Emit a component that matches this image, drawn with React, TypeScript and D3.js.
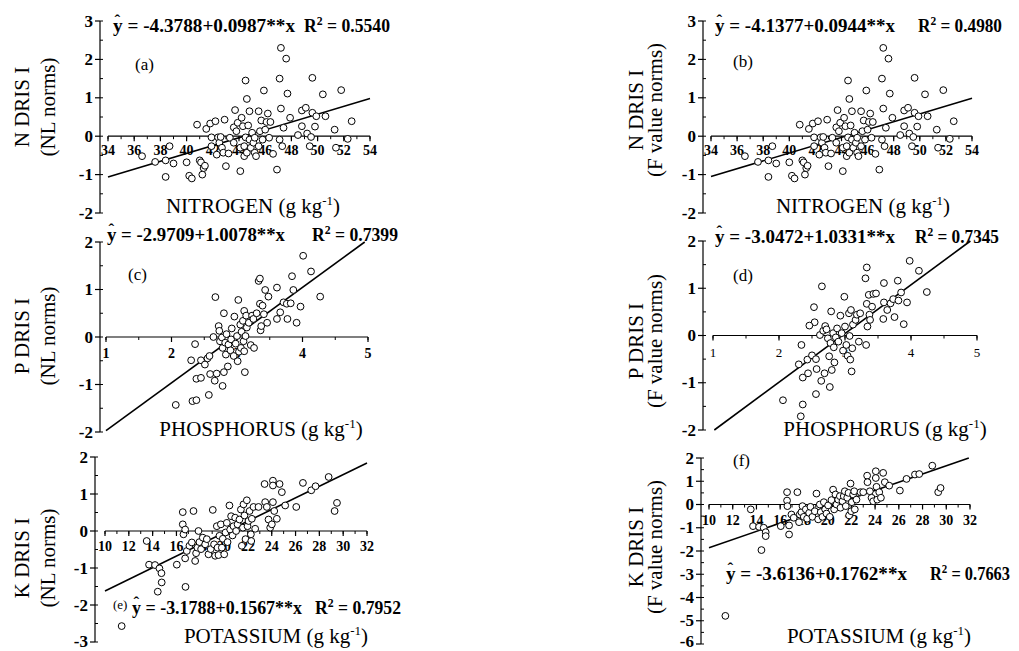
import React from "react";
import * as d3 from "d3";

type Pt = [number, number];

// ---------- data ----------
const nitrogenPoints: Pt[] = [
  [36.6, -0.52], [37.6, -0.67], [38.4, -0.63], [38.4, -1.06], [38.7, -0.26], [39.0, -0.71],
  [40.0, -0.68], [40.2, -1.03], [40.4, -1.1], [40.8, 0.3], [41.0, -0.63], [41.1, -0.68],
  [41.2, -1.0], [41.3, -0.83], [41.4, -0.77], [41.5, 0.19], [41.8, 0.33], [41.9, -0.03],
  [41.9, -0.26], [42.2, 0.39], [42.3, -0.48], [42.4, -0.03], [42.5, -0.17], [42.6, -0.02],
  [42.7, -0.3], [42.8, -0.43], [42.9, 0.43], [43.0, -0.78], [43.2, -0.45], [43.3, -0.04],
  [43.6, 0.23], [43.6, -0.17], [43.7, 0.68], [43.8, 0.13], [43.9, 0.35], [44.1, -0.91],
  [44.1, -0.3], [44.2, 0.48], [44.3, 0.26], [44.4, -0.26], [44.4, -0.52], [44.5, 1.45],
  [44.5, -0.03], [44.6, -0.43], [44.6, 0.97], [44.7, 0.28], [44.8, 0.65], [44.8, -0.09],
  [44.9, -0.3], [45.0, 0.09], [45.1, -0.17], [45.2, -0.43], [45.2, -0.04], [45.3, -0.52],
  [45.5, -0.26], [45.5, 0.65], [45.6, 0.13], [45.7, 0.41], [45.8, -0.09], [45.9, 1.19],
  [46.0, 0.17], [46.1, 0.37], [46.2, 0.59], [46.3, -0.04], [46.4, 0.37], [46.6, -0.46],
  [46.9, -0.87], [47.1, -0.09], [47.1, 1.5], [47.2, 0.72], [47.2, 2.3], [47.3, -0.26],
  [47.4, 0.22], [47.6, 2.02], [47.7, 1.11], [47.9, 0.48], [48.5, 0.03], [48.8, 0.26],
  [48.8, 0.67], [49.1, 0.74], [49.2, 0.07], [49.4, -0.26], [49.5, -0.02], [49.6, 1.52],
  [49.6, 0.61], [49.8, 0.25], [49.9, 0.52], [50.4, 1.09], [50.6, 0.52], [51.3, 0.17],
  [51.4, -0.3], [51.8, 1.2], [52.3, -0.07], [52.6, 0.39],
];

const phosphorusNLPoints: Pt[] = [
  [2.065, -1.43], [2.32, -1.35], [2.38, -1.33], [2.57, -1.22], [2.78, -1.03], [2.3, -0.49],
  [2.36, -0.15], [2.38, -0.88], [2.45, -0.49], [2.45, -0.86], [2.51, -0.58], [2.55, -0.45],
  [2.58, -0.4], [2.59, -0.78], [2.64, 0.0], [2.66, -0.92], [2.67, 0.84], [2.69, -0.77],
  [2.72, 0.23], [2.73, 0.13], [2.74, -0.09], [2.77, -0.01], [2.78, -0.23], [2.8, 0.5],
  [2.8, -0.74], [2.82, -0.12], [2.83, -0.37], [2.84, 0.06], [2.86, -0.62], [2.87, -0.16],
  [2.9, -0.28], [2.91, -0.05], [2.92, 0.18], [2.95, -0.4], [2.96, 0.43], [2.98, -0.14],
  [3.0, 0.02], [3.01, -0.51], [3.02, 0.78], [3.03, -0.31], [3.05, 0.26], [3.06, -0.23],
  [3.07, 0.11], [3.09, 0.34], [3.1, -0.09], [3.11, -0.3], [3.11, 0.55], [3.12, -0.74],
  [3.13, 0.02], [3.14, 0.45], [3.15, 0.2], [3.18, 0.3], [3.21, -0.17], [3.23, 0.45],
  [3.25, 0.38], [3.26, -0.23], [3.3, 0.5], [3.33, 1.18], [3.35, 1.23], [3.35, 0.7],
  [3.36, 0.14], [3.37, 0.23], [3.39, 0.66], [3.41, 0.48], [3.43, 0.99], [3.46, 0.3],
  [3.48, 0.85], [3.61, 1.04], [3.61, 0.38], [3.66, 0.52], [3.71, 0.73], [3.76, 0.7],
  [3.77, 0.38], [3.82, 0.71], [3.84, 1.28], [3.86, 0.99], [3.91, 0.3], [3.97, 0.64],
  [4.01, 1.71], [4.13, 1.38], [4.27, 0.85],
];

const phosphorusFPoints: Pt[] = [
  [2.06, -1.37], [2.33, -1.71], [2.36, -1.46], [2.56, -1.24], [2.77, -1.09], [2.3, -0.61],
  [2.34, -0.2], [2.36, -0.89], [2.43, -0.51], [2.44, -0.8], [2.5, -0.42], [2.53, 0.6],
  [2.54, 0.28], [2.46, 0.21], [2.56, -0.5], [2.57, -0.71], [2.62, 0.01], [2.64, -0.96],
  [2.65, 1.04], [2.67, 0.1], [2.69, -0.8], [2.7, 0.2], [2.72, 0.13], [2.74, -0.06],
  [2.76, -0.44], [2.78, -0.16], [2.79, 0.51], [2.8, -0.73], [2.82, 0.05], [2.83, -0.25],
  [2.84, -0.57], [2.86, -0.04], [2.88, 0.15], [2.9, -0.13], [2.93, 0.42], [2.95, 0.05],
  [2.97, -0.32], [2.99, 0.82], [3.0, 0.19], [3.02, -0.2], [3.04, -0.43], [3.06, 0.47],
  [3.07, -0.01], [3.08, -0.51], [3.09, 0.54], [3.1, -0.76], [3.11, -0.27], [3.12, 0.23],
  [3.16, 0.33], [3.18, 0.44], [3.21, -0.13], [3.23, 0.47], [3.31, 1.21], [3.32, -0.2],
  [3.33, 1.44], [3.33, 0.67], [3.34, 0.19], [3.36, 0.86], [3.37, 0.44], [3.38, 0.33],
  [3.41, 0.61], [3.43, 0.88], [3.47, 0.89], [3.58, 0.35], [3.59, 1.11], [3.59, 0.7],
  [3.64, 0.54], [3.69, 0.68], [3.73, 0.77], [3.75, 0.39], [3.8, 1.16], [3.81, 0.74],
  [3.85, 0.91], [3.89, 0.24], [3.94, 0.7], [3.98, 1.58], [4.12, 1.37], [4.24, 0.92],
];

const potassiumNLPoints: Pt[] = [
  [11.4, -2.57], [13.5, -0.27], [13.7, -0.91], [14.2, -0.92], [14.43, -1.64], [14.57, -1.01],
  [14.74, -1.14], [14.76, -1.39], [16.03, -0.91], [16.53, 0.51], [16.53, 0.18], [16.59, -0.09],
  [16.73, 0.04], [16.73, -0.74], [16.76, -1.51], [16.87, -0.54], [17.09, -0.4], [17.29, -0.31],
  [17.43, 0.54], [17.57, -0.81], [17.65, -0.6], [17.76, -0.45], [17.85, 0.0], [17.93, -0.3],
  [18.07, -0.49], [18.21, -0.18], [18.41, -0.36], [18.55, -0.22], [18.69, -0.63], [18.88, -0.49],
  [19.05, 0.57], [19.16, -0.36], [19.25, -0.67], [19.39, 0.13], [19.45, -0.45], [19.53, -0.65],
  [19.61, -0.13], [19.73, 0.18], [19.81, -0.45], [19.89, -0.21], [20.01, -0.63], [20.12, -0.04],
  [20.23, 0.22], [20.29, -0.3], [20.45, 0.69], [20.51, 0.04], [20.59, 0.4], [20.71, -0.12],
  [20.79, 0.13], [20.93, 0.36], [21.01, 0.0], [21.13, 0.18], [21.29, 0.31], [21.41, 0.58],
  [21.49, -0.4], [21.58, 0.09], [21.63, 0.72], [21.71, 0.42], [21.8, -0.22], [21.91, 0.83],
  [21.97, 0.13], [22.05, 0.27], [22.14, 0.54], [22.25, -0.09], [22.28, -0.27], [22.33, 0.33],
  [22.47, 0.65], [22.61, 0.06], [22.89, 0.65], [23.4, 1.27], [23.45, 0.78], [23.59, 0.65],
  [23.73, 0.31], [23.87, 0.09], [24.01, 0.18], [24.1, 1.36], [24.1, 1.23], [24.1, 0.78],
  [24.21, 0.54], [24.43, 0.33], [24.66, 1.27], [24.85, 1.05], [25.13, 0.69], [26.06, 0.65],
  [26.62, 1.3], [27.32, 1.1], [27.68, 1.21], [28.78, 1.46], [29.28, 0.54], [29.48, 0.76],
];

const potassiumFPoints: Pt[] = [
  [11.38, -4.79], [13.52, -0.21], [13.71, -0.93], [14.22, -0.96], [14.42, -1.96], [14.61, -1.0],
  [14.78, -1.19], [14.78, -1.36], [16.05, -0.93], [16.58, 0.53], [16.58, 0.17], [16.61, -0.07],
  [16.75, -0.9], [16.75, -1.29], [16.95, -0.43], [17.14, -0.57], [17.45, 0.53], [17.59, -0.76],
  [17.65, -0.43], [17.79, -0.33], [17.88, -0.07], [17.99, -0.53], [18.16, -0.21], [18.27, -0.61],
  [18.44, -0.36], [18.55, -0.1], [18.72, -0.53], [18.92, -0.29], [19.06, 0.47], [19.2, -0.64],
  [19.34, 0.0], [19.42, -0.33], [19.56, -0.53], [19.68, 0.1], [19.79, -0.21], [19.9, -0.39],
  [20.04, -0.04], [20.18, -0.53], [20.32, 0.19], [20.46, 0.64], [20.55, -0.21], [20.66, 0.43],
  [20.74, 0.0], [20.89, 0.21], [21.03, 0.36], [21.08, -0.14], [21.25, 0.14], [21.36, 0.36],
  [21.45, 0.57], [21.53, -0.07], [21.65, 0.29], [21.76, 0.5], [21.81, -0.47], [21.93, 0.9],
  [21.99, -0.29], [22.04, 0.1], [22.15, 0.43], [22.24, 0.57], [22.29, -0.21], [22.43, 0.21],
  [22.77, 0.53], [23.0, 0.53], [23.33, 1.24], [23.36, 0.96], [23.56, 0.57], [23.7, 0.29],
  [23.84, 0.14], [24.06, 1.43], [24.06, 1.14], [24.12, 0.76], [24.18, 0.21], [24.35, 0.53],
  [24.49, 0.29], [24.68, 1.36], [24.82, 0.96], [25.19, 0.81], [26.09, 0.6], [26.65, 1.1],
  [27.36, 1.29], [27.72, 1.31], [28.82, 1.67], [29.32, 0.53], [29.52, 0.71],
];

// regression line end points (as drawn)
const fitA: Pt[] = [[34, -1.06], [54, 0.98]];
const fitB: Pt[] = [[34, -1.05], [54, 0.99]];
const fitC: Pt[] = [[1, -1.97], [4.95, 2.0]];
const fitD: Pt[] = [[1.02, -2.0], [4.9, 2.0]];
const fitE: Pt[] = [[10, -1.62], [32, 1.84]];
const fitF: Pt[] = [[10, -1.86], [31.9, 2.0]];

const nitrogenTicks = [34, 36, 38, 40, 42, 44, 46, 48, 50, 52, 54];
const phosphorusTicks = [1, 2, 3, 4, 5];
const potassiumTicks = [10, 12, 14, 16, 18, 20, 22, 24, 26, 28, 30, 32];
const yTicksN = [-2, -1, 0, 1, 2, 3];
const yTicksP = [-2, -1, 0, 1, 2];
const yTicksKNL = [-3, -2, -1, 0, 1, 2];
const yTicksKF = [-6, -5, -4, -3, -2, -1, 0, 1, 2];

const equations = [
  "= -4.3788+0.0987**x",
  "= -4.1377+0.0944**x",
  "= -2.9709+1.0078**x",
  "= -3.0472+1.0331**x",
  "= -3.1788+0.1567**x",
  "= -3.6136+0.1762**x",
];
const r2Values = ["0.5540", "0.4980", "0.7399", "0.7345", "0.7952", "0.7663"];
const panelTags = ["(a)", "(b)", "(c)", "(d)", "(e)", "(f)"];
const yTitles = ["N DRIS I", "N DRIS I", "P DRIS I", "P DRIS I", "K DRIS I", "K DRIS I"];
const normTitles = ["(NL norms)", "(F value norms)", "(NL norms)", "(F value norms)", "(NL norms)", "(F value norms)"];
const xTitles = ["NITROGEN", "NITROGEN", "PHOSPHORUS", "PHOSPHORUS", "POTASSIUM", "POTASSIUM"];

// ---------- layout ----------
const FONT = "'Liberation Serif', 'Times New Roman', serif";

type Panel = {
  pts: Pt[]; fit: Pt[];
  xDom: [number, number]; xR: [number, number];
  yDom: [number, number]; yR: [number, number];
  axisX: number; xTicks: number[]; xMinor: number; yTicks: number[];
  xBold: boolean; xFs: number; xLabOff: number;
  eqX: number; eqY: number; eqW: number; r2X: number; r2W: number;
  tagX: number; tagY: number; tagFs: number;
  yT1x: number; yT2x: number; yTcy: number;
  xTcx: number; xTy: number;
};

const panels: Panel[] = [
  { pts: nitrogenPoints, fit: fitA, xDom: [34, 54], xR: [108, 370], yDom: [-2, 3], yR: [213, 21], axisX: 100,
    xTicks: nitrogenTicks, xMinor: 1, yTicks: yTicksN, xBold: true, xFs: 14, xLabOff: 19,
    eqX: 113, eqY: 32, eqW: 182, r2X: 304, r2W: 86, tagX: 135, tagY: 70, tagFs: 17,
    yT1x: 29, yT2x: 55, yTcy: 107, xTcx: 253, xTy: 213 },
  { pts: nitrogenPoints, fit: fitB, xDom: [34, 54], xR: [711, 972], yDom: [-2, 3], yR: [213, 21], axisX: 703,
    xTicks: nitrogenTicks, xMinor: 1, yTicks: yTicksN, xBold: true, xFs: 14, xLabOff: 19,
    eqX: 715, eqY: 32, eqW: 180, r2X: 918, r2W: 84, tagX: 733, tagY: 67, tagFs: 17,
    yT1x: 643, yT2x: 662, yTcy: 110, xTcx: 863, xTy: 213 },
  { pts: phosphorusNLPoints, fit: fitC, xDom: [1, 5], xR: [106, 368], yDom: [-2, 2], yR: [432, 242], axisX: 100,
    xTicks: phosphorusTicks, xMinor: 0.5, yTicks: yTicksP, xBold: true, xFs: 14, xLabOff: 21,
    eqX: 107, eqY: 241, eqW: 178, r2X: 312, r2W: 86, tagX: 128, tagY: 280, tagFs: 17,
    yT1x: 29, yT2x: 55, yTcy: 336, xTcx: 261, xTy: 436 },
  { pts: phosphorusFPoints, fit: fitD, xDom: [1, 5], xR: [713, 977], yDom: [-2, 2], yR: [430, 241], axisX: 703,
    xTicks: phosphorusTicks, xMinor: 0.5, yTicks: yTicksP, xBold: false, xFs: 13, xLabOff: 21,
    eqX: 715, eqY: 243, eqW: 180, r2X: 915, r2W: 84, tagX: 733, tagY: 281, tagFs: 17,
    yT1x: 643, yT2x: 662, yTcy: 341, xTcx: 885, xTy: 436 },
  { pts: potassiumNLPoints, fit: fitE, xDom: [10, 32], xR: [105, 367], yDom: [-3, 2], yR: [642, 457], axisX: 95,
    xTicks: potassiumTicks, xMinor: 1, yTicks: yTicksKNL, xBold: true, xFs: 14, xLabOff: 20,
    eqX: 132, eqY: 614, eqW: 170, r2X: 315, r2W: 86, tagX: 113, tagY: 609, tagFs: 13,
    yT1x: 29, yT2x: 55, yTcy: 558, xTcx: 276, xTy: 643 },
  { pts: potassiumFPoints, fit: fitF, xDom: [10, 32], xR: [709, 970], yDom: [-6, 2], yR: [644, 458], axisX: 701,
    xTicks: potassiumTicks, xMinor: 1, yTicks: yTicksKF, xBold: true, xFs: 14, xLabOff: 20,
    eqX: 726, eqY: 580, eqW: 181, r2X: 930, r2W: 80, tagX: 733, tagY: 466, tagFs: 17,
    yT1x: 643, yT2x: 662, yTcy: 547, xTcx: 879, xTy: 643 },
];

function PanelView({ p, i }: { p: Panel; i: number }) {
  const x = d3.scaleLinear().domain(p.xDom).range(p.xR);
  const y = d3.scaleLinear().domain(p.yDom).range(p.yR);
  const y0 = y(0);
  const line = d3.line<Pt>().x((d) => x(d[0])).y((d) => y(d[1]));
  const xMinorTicks = d3.range(p.xDom[0], p.xDom[1] + 1e-9, p.xMinor);
  const yMinorTicks = d3.range(p.yDom[0], p.yDom[1] + 1e-9, 0.5);
  return (
    <g fontFamily={FONT} fill="#000">
      {/* y axis */}
      <line x1={p.axisX} x2={p.axisX} y1={y(p.yDom[1])} y2={y(p.yDom[0])} stroke="#000" strokeWidth={1.2} />
      {p.yTicks.map((t) => (
        <g key={"yt" + t}>
          <line x1={p.axisX - 5} x2={p.axisX} y1={y(t)} y2={y(t)} stroke="#000" strokeWidth={1.2} />
          <text x={p.axisX - 7} y={Math.min(y(t) + 5.5, 647)} textAnchor="end" fontSize={17} fontWeight="bold">{t}</text>
        </g>
      ))}
      {yMinorTicks.map((t) => (
        <line key={"ym" + t} x1={p.axisX} x2={p.axisX + 3} y1={y(t)} y2={y(t)} stroke="#000" strokeWidth={1} />
      ))}
      {/* x axis at y = 0 */}
      <line x1={x(p.xDom[0])} x2={x(p.xDom[1])} y1={y0} y2={y0} stroke="#000" strokeWidth={1.2} />
      {xMinorTicks.map((t) => (
        <line key={"xm" + t} x1={x(t)} x2={x(t)} y1={y0} y2={y0 + 3} stroke="#000" strokeWidth={1} />
      ))}
      {p.xTicks.map((t) => (
        <g key={"xt" + t}>
          <line x1={x(t)} x2={x(t)} y1={y0} y2={y0 + 5} stroke="#000" strokeWidth={1.2} />
          <text x={x(t)} y={y0 + p.xLabOff} textAnchor="middle" fontSize={p.xFs}
            fontWeight={p.xBold ? "bold" : "normal"}>{t}</text>
        </g>
      ))}
      {/* fitted line */}
      <path d={line(p.fit) || ""} stroke="#000" strokeWidth={1.6} fill="none" />
      {/* points */}
      {p.pts.map((d, k) => (
        <circle key={k} cx={x(d[0])} cy={y(d[1])} r={3.4} fill="#fff" stroke="#000" strokeWidth={1} />
      ))}
      {/* equation */}
      <text x={p.eqX} y={p.eqY} fontSize={18} fontWeight="bold" textLength={p.eqW} lengthAdjust="spacingAndGlyphs">
        {"y " + equations[i]}
      </text>
      <text x={p.eqX + 1.5} y={p.eqY - 6} fontSize={17} fontWeight="bold">ˆ</text>
      <text x={p.r2X} y={p.eqY} fontSize={18} fontWeight="bold" textLength={p.r2W} lengthAdjust="spacingAndGlyphs">
        R<tspan dy={-7} fontSize={12}>2</tspan><tspan dy={7}>{" = " + r2Values[i]}</tspan>
      </text>
      {/* panel tag */}
      <text x={p.tagX} y={p.tagY} fontSize={p.tagFs}>{panelTags[i]}</text>
      {/* y titles */}
      <text transform={`translate(${p.yT1x},${p.yTcy}) rotate(-90)`} textAnchor="middle" fontSize={21}>{yTitles[i]}</text>
      <text transform={`translate(${p.yT2x},${p.yTcy}) rotate(-90)`} textAnchor="middle" fontSize={21}>{normTitles[i]}</text>
      {/* x title */}
      <text x={p.xTcx} y={p.xTy} textAnchor="middle" fontSize={21}>
        {xTitles[i] + " (g kg"}
        <tspan dy={-8} fontSize={13}>-1</tspan>
        <tspan dy={8}>)</tspan>
      </text>
    </g>
  );
}

export default function App() {
  return (
    <svg width={1019} height={651} style={{ position: "absolute", left: 0, top: 0, background: "#fff" }}>
      <rect width={1019} height={651} fill="#fff" />
      {panels.map((p, i) => (
        <PanelView key={i} p={p} i={i} />
      ))}
    </svg>
  );
}
